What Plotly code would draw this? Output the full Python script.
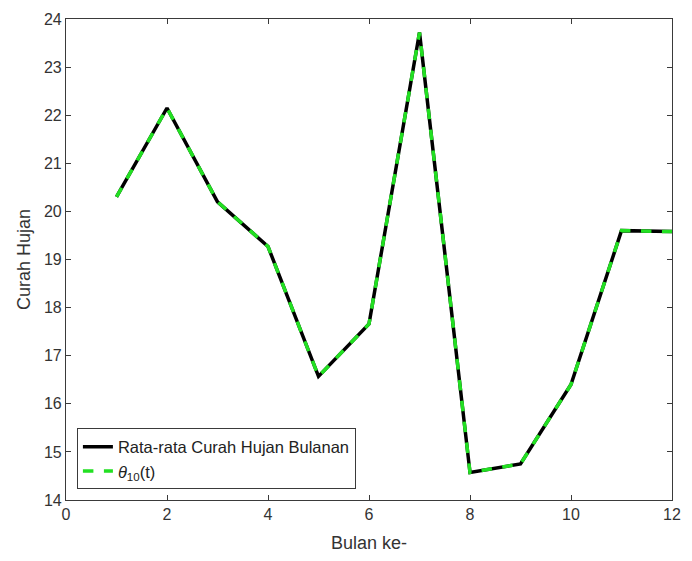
import plotly.graph_objects as go

# Monthly data
bulan = [1, 2, 3, 4, 5, 6, 7, 8, 9, 10, 11, 12]
curah_hujan = [20.3, 22.15, 20.2, 19.27, 16.57, 17.66, 23.72, 14.57, 14.75, 16.4, 19.6, 19.58]
theta10 = [20.3, 22.15, 20.2, 19.27, 16.57, 17.66, 23.72, 14.57, 14.75, 16.4, 19.6, 19.58]

x_ticks = [0, 2, 4, 6, 8, 10, 12]
y_ticks = [14, 15, 16, 17, 18, 19, 20, 21, 22, 23, 24]

axis_color = "#3a3a3a"
font_family = "Liberation Sans, Arial, sans-serif"

fig = go.Figure()
fig.add_trace(go.Scatter(
    x=bulan, y=curah_hujan, mode="lines",
    name="Rata-rata Curah Hujan Bulanan",
    line=dict(color="black", width=3.5),
))
fig.add_trace(go.Scatter(
    x=bulan, y=theta10, mode="lines",
    name="<i>θ</i><sub>10</sub>(t)",
    line=dict(color="#22e022", width=3.5, dash="dash"),
))

axis_common = dict(
    showgrid=False, zeroline=False, showline=True, mirror="ticks",
    linecolor=axis_color, linewidth=1.2,
    ticks="inside", ticklen=5, tickcolor=axis_color,
    tickfont=dict(size=16, color="#333333", family=font_family),
)

fig.update_layout(
    width=692, height=561,
    margin=dict(l=66, r=11, t=17, b=60),
    plot_bgcolor="white", paper_bgcolor="white",
    font=dict(family=font_family),
    showlegend=True,
    legend=dict(
        x=0.018, y=0.022, xanchor="left", yanchor="bottom",
        bgcolor="white", bordercolor=axis_color, borderwidth=1,
        font=dict(size=16.5, color="#222222", family=font_family),
        tracegroupgap=0,
    ),
    xaxis=dict(
        range=[0, 12], tickvals=x_ticks,
        title=dict(text="Bulan ke-", font=dict(size=18, color="#333333"), standoff=14),
        **axis_common,
    ),
    yaxis=dict(
        range=[14, 24], tickvals=y_ticks,
        title=dict(text="Curah Hujan", font=dict(size=18, color="#333333"), standoff=8),
        **axis_common,
    ),
)

fig.write_html("out.html")
